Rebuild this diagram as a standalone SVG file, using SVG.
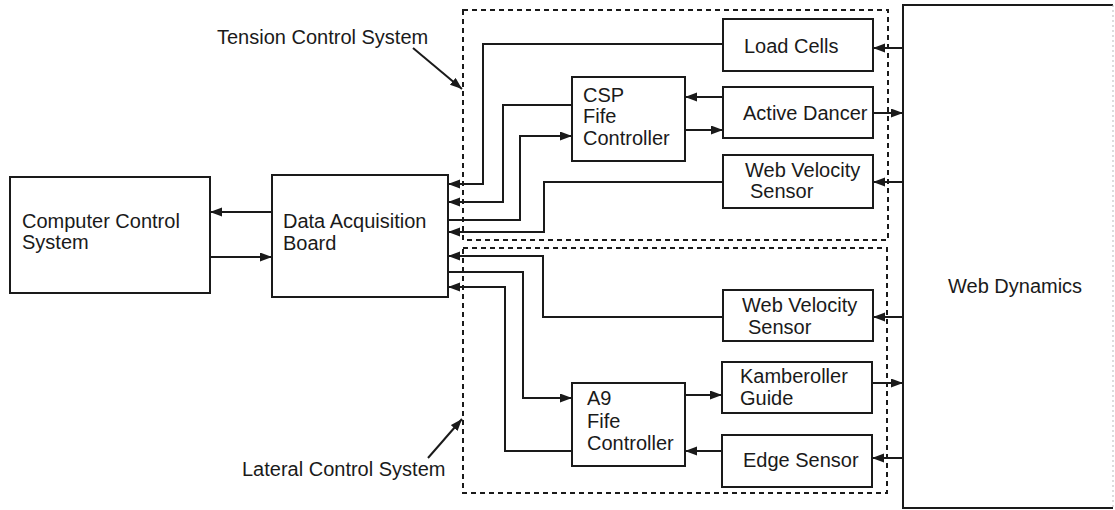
<svg xmlns="http://www.w3.org/2000/svg" width="1115" height="510" viewBox="0 0 1115 510">
  <style>
    .box { fill: none; stroke: #1a1a1a; stroke-width: 2; }
    .group { fill: none; stroke: #1a1a1a; stroke-width: 2; stroke-dasharray: 5 4; }
    .wire { fill: none; stroke: #1a1a1a; stroke-width: 2; }
    .label { font-family: "Liberation Sans", Arial, sans-serif; font-size: 20px; fill: #1a1a1a; }
  </style>
  <defs>
    <marker id="arrow" markerUnits="userSpaceOnUse" markerWidth="13" markerHeight="10" refX="12" refY="4.5" orient="auto">
      <path d="M0,0 L12,4.5 L0,9 z" fill="#1a1a1a"/>
    </marker>
  </defs>
  <rect width="1115" height="510" fill="#ffffff"/>

  <!-- Subsystem boundaries -->
  <g id="tension-control-system">
    <rect class="group" x="463" y="10" width="425" height="230"/>
    <text class="label" x="217" y="44">Tension Control System</text>
  </g>
  <g id="lateral-control-system">
    <rect class="group" x="463" y="248" width="424" height="245"/>
    <text class="label" x="242" y="476">Lateral Control System</text>
  </g>

  <!-- Blocks -->
  <g id="computer-control-system">
    <rect class="box" x="10" y="177" width="200" height="116"/>
    <text class="label" x="22" y="228">Computer Control</text>
    <text class="label" x="22" y="249">System</text>
  </g>
  <g id="data-acquisition-board">
    <rect class="box" x="272" y="175" width="176" height="122"/>
    <text class="label" x="283" y="228">Data Acquisition</text>
    <text class="label" x="283" y="250">Board</text>
  </g>
  <g id="load-cells">
    <rect class="box" x="723" y="19" width="150" height="52"/>
    <text class="label" x="744" y="53">Load Cells</text>
  </g>
  <g id="csp-fife-controller">
    <rect class="box" x="572" y="77" width="113" height="84"/>
    <text class="label" x="583" y="102">CSP</text>
    <text class="label" x="583" y="123">Fife</text>
    <text class="label" x="583" y="145">Controller</text>
  </g>
  <g id="active-dancer">
    <rect class="box" x="723" y="87" width="150" height="51"/>
    <text class="label" x="743" y="120">Active Dancer</text>
  </g>
  <g id="web-velocity-sensor-tension">
    <rect class="box" x="723" y="155" width="150" height="53"/>
    <text class="label" x="745" y="177">Web Velocity</text>
    <text class="label" x="750" y="198">Sensor</text>
  </g>
  <g id="web-velocity-sensor-lateral">
    <rect class="box" x="723" y="290" width="150" height="51"/>
    <text class="label" x="742" y="312">Web Velocity</text>
    <text class="label" x="748" y="334">Sensor</text>
  </g>
  <g id="kamberoller-guide">
    <rect class="box" x="722" y="362" width="150" height="51"/>
    <text class="label" x="740" y="383">Kamberoller</text>
    <text class="label" x="740" y="405">Guide</text>
  </g>
  <g id="edge-sensor">
    <rect class="box" x="722" y="435" width="150" height="52"/>
    <text class="label" x="743" y="467">Edge Sensor</text>
  </g>
  <g id="a9-fife-controller">
    <rect class="box" x="572" y="383" width="113" height="83"/>
    <text class="label" x="587" y="405">A9</text>
    <text class="label" x="587" y="428">Fife</text>
    <text class="label" x="587" y="450">Controller</text>
  </g>
  <g id="web-dynamics">
    <path class="box" d="M1113,5 H903 V508 H1113"/>
    <line x1="1113" y1="5" x2="1113" y2="508" stroke="#bbbbbb" stroke-width="1" stroke-dasharray="2 3"/>
    <text class="label" x="948" y="293">Web Dynamics</text>
  </g>

  <!-- Connectors -->
  <g id="connectors">
    <!-- computer control system and data acquisition board -->
    <path class="wire" d="M272,212 H210" marker-end="url(#arrow)"/>
    <path class="wire" d="M210,257 H272" marker-end="url(#arrow)"/>

    <!-- tension loop -->
    <path class="wire" d="M723,44 H483 V184 H448" marker-end="url(#arrow)"/>
    <path class="wire" d="M572,105 H503 V202 H448" marker-end="url(#arrow)"/>
    <path class="wire" d="M448,220 H520 V136 H572" marker-end="url(#arrow)"/>
    <path class="wire" d="M723,182 H544 V232 H448" marker-end="url(#arrow)"/>
    <path class="wire" d="M723,97 H685" marker-end="url(#arrow)"/>
    <path class="wire" d="M685,130 H723" marker-end="url(#arrow)"/>

    <!-- lateral loop -->
    <path class="wire" d="M723,317 H543 V256 H448" marker-end="url(#arrow)"/>
    <path class="wire" d="M448,272 H523 V398 H572" marker-end="url(#arrow)"/>
    <path class="wire" d="M572,451 H505 V287 H448" marker-end="url(#arrow)"/>
    <path class="wire" d="M685,395 H722" marker-end="url(#arrow)"/>
    <path class="wire" d="M722,451 H685" marker-end="url(#arrow)"/>

    <!-- web dynamics links -->
    <path class="wire" d="M903,48 H873" marker-end="url(#arrow)"/>
    <path class="wire" d="M873,113 H903" marker-end="url(#arrow)"/>
    <path class="wire" d="M903,182 H873" marker-end="url(#arrow)"/>
    <path class="wire" d="M903,317 H873" marker-end="url(#arrow)"/>
    <path class="wire" d="M872,383 H903" marker-end="url(#arrow)"/>
    <path class="wire" d="M903,458 H872" marker-end="url(#arrow)"/>

    <!-- subsystem callouts -->
    <path class="wire" d="M413,48 L462,89" marker-end="url(#arrow)"/>
    <path class="wire" d="M428,458 L462,419" marker-end="url(#arrow)"/>
  </g>
</svg>
